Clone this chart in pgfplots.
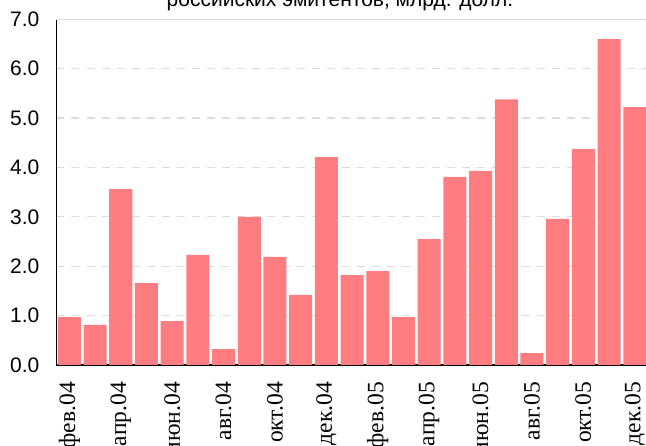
\documentclass[border=0pt]{standalone}
\usepackage{pgfplots}
\pgfplotsset{compat=1.18}
\usepackage{fontspec}
\setmainfont{Liberation Serif}
\newfontfamily\arialf{Liberation Sans}
\definecolor{barc}{RGB}{255,124,128}
\definecolor{gridc}{RGB}{220,220,220}
\begin{document}
\begin{tikzpicture}[x=1pt,y=1pt]
\begin{axis}[
  at={(56.5pt,81pt)}, anchor=south west,
  scale only axis, width=591.1pt, height=345.7pt,
  xmin=0.5, xmax=23.5, ymin=0, ymax=7,
  axis lines*=left,
  axis line style={black, line width=1.3pt},
  ybar, bar width=23pt,
  xtick={1,3,...,23},
  xticklabels={фев.04,апр.04,июн.04,авг.04,окт.04,дек.04,фев.05,апр.05,июн.05,авг.05,окт.05,дек.05},
  xticklabel style={rotate=90, anchor=east, inner sep=0pt, font=\fontsize{23.5}{23.5}\selectfont},
  xticklabel shift=17pt,
  ytick={0,1,...,6},
  extra y ticks={7},
  extra y tick style={grid style={solid, gridc, line width=1.3pt}},
  ymajorgrids,
  grid style={gridc, line width=1.3pt, dash pattern=on 8pt off 7pt},
  major tick length=0pt,
  yticklabel style={inner sep=0pt, font=\arialf\fontsize{21}{21}\selectfont,
    /pgf/number format/fixed, /pgf/number format/precision=1,
    /pgf/number format/fixed zerofill, /pgf/number format/assume math mode=true},
  yticklabel shift=17pt,
  clip=false,
]
\addplot[fill=barc, draw=none, bar shift=0pt] coordinates {
(1,0.97) (2,0.81) (3,3.56) (4,1.66) (5,0.89) (6,2.23) (7,0.32) (8,3.00)
(9,2.19) (10,1.42) (11,4.21) (12,1.82) (13,1.90) (14,0.97) (15,2.55)
(16,3.81) (17,3.93) (18,5.38) (19,0.24) (20,2.96) (21,4.37) (22,6.60) (23,5.22)
};
\end{axis}
\node[anchor=base, inner sep=0pt, font=\arialf\fontsize{21}{21}\selectfont] at (340pt,439.3pt) {российских эмитентов, млрд. долл.};
\pgfresetboundingbox
\useasboundingbox (0,0) rectangle (646pt,446pt);
\end{tikzpicture}
\end{document}
